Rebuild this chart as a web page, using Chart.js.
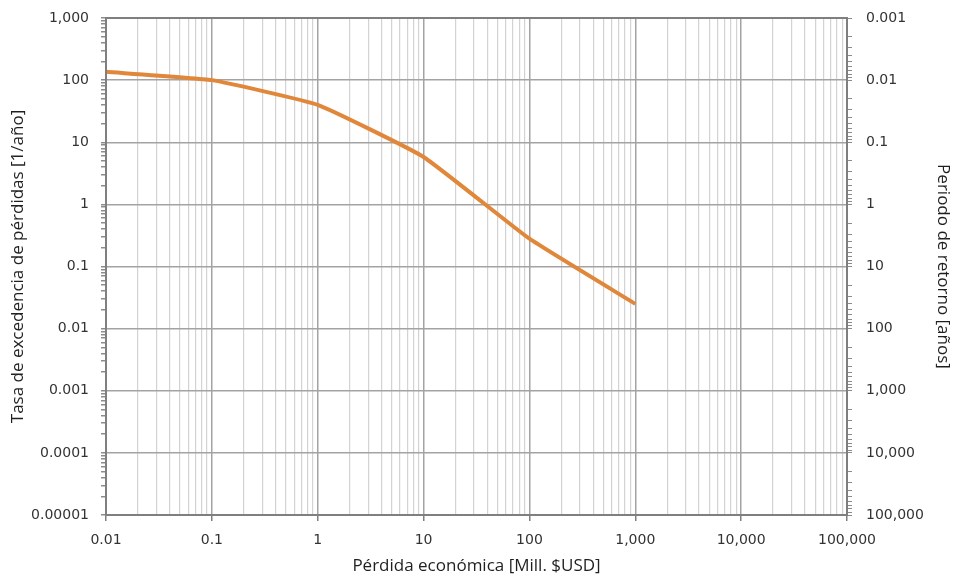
<!DOCTYPE html>
<html>
<head>
<meta charset="utf-8">
<script src="https://cdn.jsdelivr.net/npm/chart.js@4.4.1/dist/chart.umd.min.js"></script>
<style>
  html, body { margin: 0; padding: 0; background: #fff; }
  #wrap { width: 953px; height: 578px; position: relative; }
</style>
</head>
<body>
<div id="wrap"><canvas id="lossChart"></canvas></div>
<script>
// Curva de excedencia de pérdidas
const lossValues = [0.01, 0.1, 1, 10, 100, 1000];          // Pérdida económica [Mill. $USD]
const exceedanceRate = [136, 100, 40, 5.8, 0.28, 0.025];    // Tasa de excedencia [1/año]

const xMin = 0.01, xMax = 100000;
const yMin = 0.00001, yMax = 1000;
const returnMin = 0.001, returnMax = 100000;

const labelFont = { family: 'DejaVu Sans', size: 14, lineHeight: 1 };
const titleFont = { family: 'Open Sans', size: 17 };
const textColor = '#333333';

function logTicks(min, max) {
    const ticks = [];
    for (let e = Math.round(Math.log10(min)); e <= Math.round(Math.log10(max)); e++) {
        for (let m = 1; m <= 9; m++) {
            const v = Number((m * Math.pow(10, e)).toPrecision(12));
            if (v > max * 1.0001) break;
            ticks.push({ value: v, major: m === 1 });
        }
    }
    return ticks;
}

function isMajor(v) {
    const l = Math.log10(v);
    return Math.abs(l - Math.round(l)) < 1e-9;
}

function fmt(v) {
    return v.toLocaleString('en-US', { maximumFractionDigits: 6 });
}

function fitVertical(s) {
    s.width = 106;
    s.paddingTop = 0;
    s.paddingBottom = 0;
}

// marco del área de trazado
const frame = {
    id: 'frame',
    afterDraw(chart) {
        const { ctx, chartArea: a } = chart;
        ctx.save();
        ctx.strokeStyle = '#7f7f7f';
        ctx.lineWidth = 2;
        ctx.strokeRect(a.left, a.top, a.right - a.left, a.bottom - a.top);
        ctx.restore();
    }
};

new Chart(document.getElementById('lossChart'), {
    type: 'line',
    data: {
        datasets: [{
            data: lossValues.map((x, i) => ({ x: x, y: exceedanceRate[i] })),
            borderColor: '#e0873a',
            borderWidth: 4,
            pointRadius: 0,
            tension: 0.12,
            fill: false
        }]
    },
    options: {
        responsive: true,
        maintainAspectRatio: false,
        animation: false,
        layout: { padding: { top: 18, left: 0, right: 0, bottom: 0 } },
        plugins: { legend: { display: false }, tooltip: { enabled: false } },
        scales: {
            x: {
                type: 'logarithmic',
                min: xMin,
                max: xMax,
                afterBuildTicks: s => { s.ticks = logTicks(xMin, xMax); },
                afterFit: s => { s.height = 63; },
                ticks: {
                    autoSkip: false,
                    maxRotation: 0,
                    padding: 12,
                    color: textColor,
                    font: labelFont,
                    callback: v => isMajor(v) ? fmt(v) : ''
                },
                grid: {
                    color: c => isMajor(c.tick.value) ? '#a3a3a3' : '#d3d3d3',
                    lineWidth: c => isMajor(c.tick.value) ? 1.5 : 1.2,
                    tickColor: c => isMajor(c.tick.value) ? '#7f7f7f' : 'rgba(0,0,0,0)',
                    tickLength: 6
                },
                border: { color: '#7f7f7f', width: 2 },
                title: {
                    display: true,
                    text: 'Pérdida económica [Mill. $USD]',
                    color: '#1f1f1f',
                    font: titleFont,
                    padding: { top: 0, bottom: 2 }
                }
            },
            y: {
                type: 'logarithmic',
                position: 'left',
                min: yMin,
                max: yMax,
                afterBuildTicks: s => { s.ticks = logTicks(yMin, yMax); },
                afterFit: fitVertical,
                ticks: {
                    autoSkip: false,
                    padding: 12,
                    color: textColor,
                    font: labelFont,
                    callback: v => isMajor(v) ? fmt(v) : ''
                },
                grid: {
                    color: c => isMajor(c.tick.value) ? '#a3a3a3' : 'rgba(0,0,0,0)',
                    lineWidth: 1.5,
                    tickColor: '#8c8c8c',
                    tickLength: 5
                },
                border: { color: '#7f7f7f', width: 2 },
                title: {
                    display: true,
                    text: 'Tasa de excedencia de pérdidas [1/año]',
                    color: '#1f1f1f',
                    font: titleFont,
                    padding: { top: 8, bottom: 0 }
                }
            },
            yRet: {
                type: 'logarithmic',
                position: 'right',
                reverse: true,
                min: returnMin,
                max: returnMax,
                afterBuildTicks: s => { s.ticks = logTicks(returnMin, returnMax); },
                afterFit: fitVertical,
                ticks: {
                    autoSkip: false,
                    padding: 14,
                    color: textColor,
                    font: labelFont,
                    callback: v => isMajor(v) ? fmt(v) : ''
                },
                grid: {
                    drawOnChartArea: false,
                    tickColor: '#8c8c8c',
                    tickLength: 5
                },
                border: { color: '#7f7f7f', width: 2 },
                title: {
                    display: true,
                    text: 'Periodo de retorno [años]',
                    color: '#1f1f1f',
                    font: titleFont,
                    padding: { top: 0, bottom: 0 }
                }
            }
        }
    },
    plugins: [frame]
});
</script>
</body>
</html>
